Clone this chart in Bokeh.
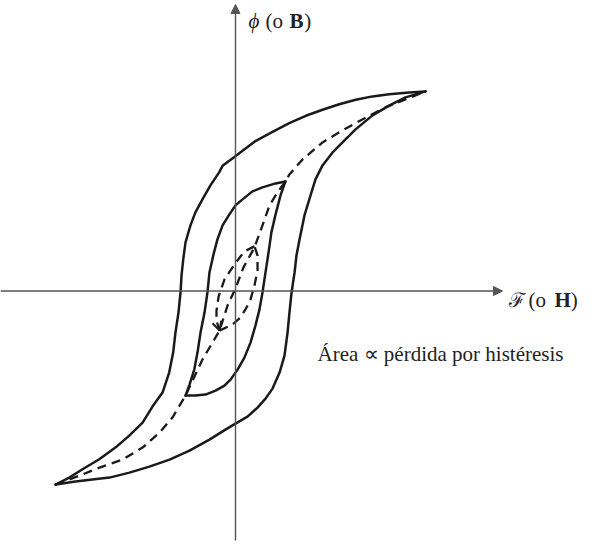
from bokeh.plotting import figure
from bokeh.models import Range1d, Arrow, NormalHead, OpenHead, Label
from bokeh.embed import file_html
from bokeh.resources import INLINE

# Outer hysteresis loop (normalised H, B)
outer_desc_H = [1.000, 0.914, 0.809, 0.721, 0.633, 0.546, 0.458, 0.370, 0.283, 0.195,
                0.107, 0.037, -0.002, -0.068, -0.086, -0.132, -0.174, -0.211, -0.237, -0.263,
                -0.275, -0.284, -0.289, -0.300, -0.316, -0.328, -0.349, -0.384, -0.437, -0.489,
                -0.559, -0.632, -0.717, -0.805, -0.875, -0.947]
outer_desc_B = [0.998, 0.993, 0.984, 0.973, 0.956, 0.934, 0.906, 0.876, 0.839, 0.796,
                0.751, 0.701, 0.673, 0.626, 0.593, 0.528, 0.458, 0.393, 0.328, 0.243,
                0.158, 0.078, -0.003, -0.108, -0.208, -0.308, -0.408, -0.508, -0.578, -0.658,
                -0.723, -0.783, -0.841, -0.891, -0.933, -0.968]
outer_asc_H = [-0.947, -0.842, -0.753, -0.663, -0.558, -0.453, -0.347, -0.242, -0.137, -0.053,
               0.000, 0.063, 0.116, 0.158, 0.195, 0.232, 0.258, 0.274, 0.284, 0.295,
               0.311, 0.321, 0.337, 0.363, 0.395, 0.421, 0.458, 0.511, 0.579, 0.632,
               0.721, 0.811, 0.895, 1.000]
outer_asc_B = [-0.968, -0.953, -0.943, -0.933, -0.908, -0.878, -0.843, -0.798, -0.743, -0.693,
               -0.663, -0.628, -0.583, -0.538, -0.488, -0.408, -0.323, -0.208, -0.108, -0.008,
               0.093, 0.178, 0.258, 0.378, 0.478, 0.558, 0.628, 0.693, 0.758, 0.808,
               0.878, 0.928, 0.968, 0.998]

# Inner hysteresis loop
inner_desc_H = [0.263, 0.211, 0.142, 0.089, 0.037, 0.000, -0.032, -0.068, -0.095, -0.117,
                -0.137, -0.147, -0.163, -0.184, -0.200, -0.217, -0.242, -0.263]
inner_desc_B = [0.548, 0.538, 0.518, 0.498, 0.458, 0.428, 0.383, 0.328, 0.258, 0.178,
                0.093, -0.003, -0.108, -0.208, -0.308, -0.393, -0.468, -0.523]
inner_asc_H = [-0.263, -0.211, -0.158, -0.105, -0.058, -0.026, 0.011, 0.047, 0.079, 0.105,
               0.126, 0.142, 0.158, 0.174, 0.189, 0.211, 0.237, 0.263]
inner_asc_B = [-0.523, -0.523, -0.518, -0.498, -0.473, -0.443, -0.393, -0.333, -0.258, -0.173,
               -0.093, -0.008, 0.093, 0.193, 0.293, 0.383, 0.478, 0.548]

# Small minor loop near the origin (dashed)
minor_desc_H = [0.100, 0.047, -0.005, -0.058, -0.089, -0.100, -0.100, -0.084]
minor_desc_B = [0.223, 0.198, 0.133, 0.058, -0.028, -0.098, -0.148, -0.198]
minor_asc_H = [-0.084, -0.016, 0.026, 0.058, 0.079, 0.100, 0.116, 0.116, 0.100]
minor_asc_B = [-0.198, -0.168, -0.133, -0.083, -0.043, 0.028, 0.103, 0.178, 0.223]

# Normal magnetisation curve (dashed) through the loop tips
normal_H = [-0.947, -0.821, -0.716, -0.595, -0.489, -0.400, -0.332, -0.263, -0.174, -0.084,
            -0.042, 0.000, 0.042, 0.100, 0.142, 0.179, 0.221, 0.263, 0.284, 0.353,
            0.458, 0.563, 0.668, 0.789, 0.895, 1.000]
normal_B = [-0.968, -0.923, -0.883, -0.843, -0.783, -0.708, -0.633, -0.523, -0.343, -0.198,
            -0.073, 0.013, 0.118, 0.218, 0.328, 0.428, 0.493, 0.548, 0.583, 0.658,
            0.743, 0.803, 0.858, 0.918, 0.958, 0.998]

# axis extents
axis_H = [-1.2368, 1.405]
axis_B = [-1.2475, 1.4325]

p = figure(width=600, height=544, output_backend="svg", toolbar_location=None,
           x_range=Range1d(-1.2368, 1.9211), y_range=Range1d(-1.2675, 1.4525),
           x_axis_type=None, y_axis_type=None, min_border=0,
           outline_line_color=None, background_fill_color="white",
           border_fill_color="white")
p.grid.visible = False

axis_color = "#555555"
p.add_layout(Arrow(x_start=axis_H[0], y_start=0, x_end=axis_H[1], y_end=0,
                   line_color=axis_color, line_width=1.4,
                   end=NormalHead(size=9, fill_color=axis_color, line_color=axis_color, line_width=1)))
p.add_layout(Arrow(x_start=0, y_start=axis_B[0], x_end=0, y_end=axis_B[1],
                   line_color=axis_color, line_width=1.4,
                   end=NormalHead(size=9, fill_color=axis_color, line_color=axis_color, line_width=1)))

ink = "#1a1a1a"
lw = 2.5
for hx, by in [(outer_desc_H, outer_desc_B), (outer_asc_H, outer_asc_B),
               (inner_desc_H, inner_desc_B), (inner_asc_H, inner_asc_B)]:
    p.line(hx, by, line_color=ink, line_width=lw, line_join="round", line_cap="round")

for hx, by in [(normal_H, normal_B), (minor_desc_H, minor_desc_B), (minor_asc_H, minor_asc_B)]:
    p.line(hx, by, line_color=ink, line_width=2.3, line_dash="9 6", line_join="round")

# arrow head on the minor loop
p.add_layout(Arrow(x_start=minor_desc_H[-2], y_start=minor_desc_B[-2],
                   x_end=minor_desc_H[-1], y_end=minor_desc_B[-1],
                   line_alpha=0, end=OpenHead(size=9, line_color=ink, line_width=2)))

font = "Liberation Serif"
fs = "21px"

def lab(x, y, t, style="normal", size=fs, f=font):
    p.add_layout(Label(x=x, y=y, text=t, text_font=f, text_font_size=size,
                       text_font_style=style, text_color="#222222",
                       text_baseline="alphabetic", text_align="left"))

# y label: phi (o B)
lab(0.068, 1.3525, "ϕ", "italic")
lab(0.158, 1.3525, "(o")
lab(0.284, 1.3525, "B", "bold")
lab(0.362, 1.3525, ")")
# x label: F (o H)
lab(1.442, -0.0425, "ℱ", "normal", "20px", "DejaVu Serif")
lab(1.542, -0.0425, "(o")
lab(1.679, -0.0425, "H", "bold")
lab(1.765, -0.0425, ")")
# annotation
lab(0.432, -0.3125, "Área ∝ pérdida por histéresis")

open("out.html", "w").write(file_html(p, INLINE))
